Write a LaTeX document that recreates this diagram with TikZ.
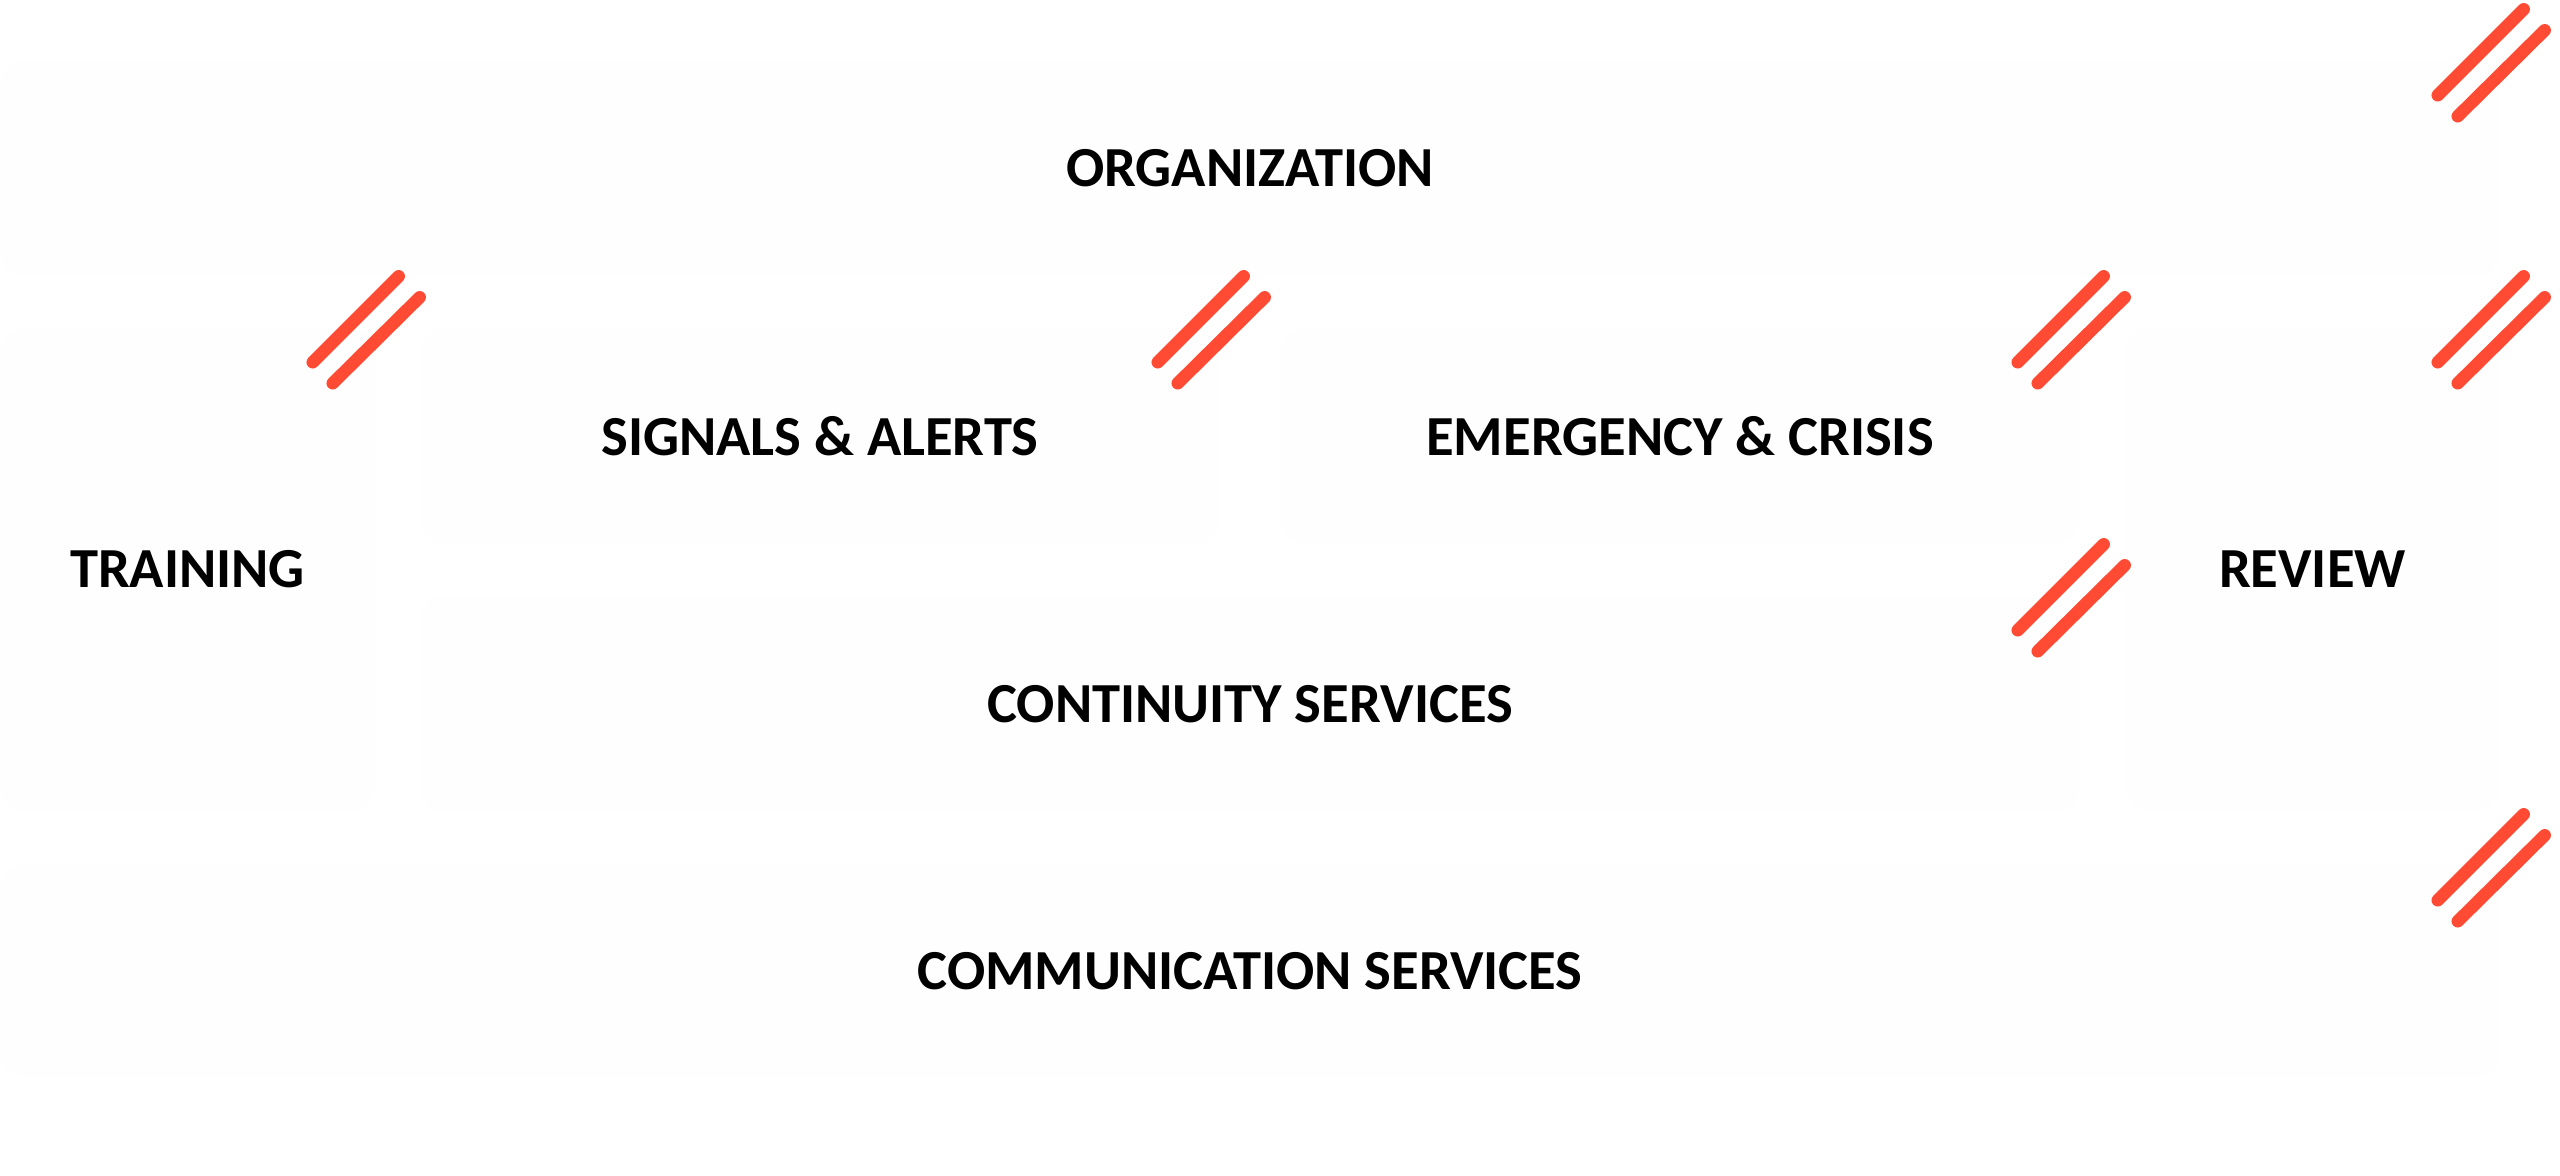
\documentclass[tikz,border=0pt]{standalone}
\usepackage{fontspec}
\setmainfont{Carlito}
\usetikzlibrary{positioning}
\definecolor{slashred}{RGB}{255,75,51}
\definecolor{boxfill}{RGB}{254,254,254}
\begin{document}
\begin{tikzpicture}[%
        node distance=0.5cm,
        block/.style={%
          rectangle,
          rounded corners=0.25cm,
          fill=boxfill,
          draw=none,
          inner sep=0pt,
          font=\bfseries\fontsize{16.1}{20}\selectfont
        },
        slash/.style={%
          draw=slashred,
          line width=0.125cm,
          line cap=round
        }
      ]
      \useasboundingbox (0,0) rectangle (25.6,11.76);
      \node[block, minimum width=25cm, minimum height=2.17cm] (org) at (12.5,10.075) {ORGANIZATION};
      \node[block, minimum width=3.75cm, minimum height=4.84cm] (trn) at (1.875,6.07) {TRAINING};
      \node[block, minimum width=8cm, minimum height=2.18cm] (sig) at (8.2,7.40) {SIGNALS \& ALERTS};
      \node[block, minimum width=8cm, minimum height=2.18cm] (emg) at (16.8,7.40) {EMERGENCY \& CRISIS};
      \node[block, minimum width=3.75cm, minimum height=4.84cm] (rev) at (23.125,6.07) {REVIEW};
      \node[block, minimum width=16.6cm, minimum height=2.18cm] (cnt) at (12.5,4.72) {CONTINUITY SERVICES};
      \node[block, minimum width=25cm, minimum height=2.13cm] (com) at (12.5,2.045) {COMMUNICATION SERVICES};

      % double slashes on the top right corners
      \draw[slash] ([shift={(-0.63,-0.36)}]org.north east) -- ([shift={(0.23,0.50)}]org.north east);
      \draw[slash] ([shift={(-0.43,-0.57)}]org.north east) -- ([shift={(0.44,0.29)}]org.north east);
      \draw[slash] ([shift={(-0.63,-0.36)}]trn.north east) -- ([shift={(0.23,0.50)}]trn.north east);
      \draw[slash] ([shift={(-0.43,-0.57)}]trn.north east) -- ([shift={(0.44,0.29)}]trn.north east);
      \draw[slash] ([shift={(-0.63,-0.36)}]sig.north east) -- ([shift={(0.23,0.50)}]sig.north east);
      \draw[slash] ([shift={(-0.43,-0.57)}]sig.north east) -- ([shift={(0.44,0.29)}]sig.north east);
      \draw[slash] ([shift={(-0.63,-0.36)}]emg.north east) -- ([shift={(0.23,0.50)}]emg.north east);
      \draw[slash] ([shift={(-0.43,-0.57)}]emg.north east) -- ([shift={(0.44,0.29)}]emg.north east);
      \draw[slash] ([shift={(-0.63,-0.36)}]rev.north east) -- ([shift={(0.23,0.50)}]rev.north east);
      \draw[slash] ([shift={(-0.43,-0.57)}]rev.north east) -- ([shift={(0.44,0.29)}]rev.north east);
      \draw[slash] ([shift={(-0.63,-0.36)}]cnt.north east) -- ([shift={(0.23,0.50)}]cnt.north east);
      \draw[slash] ([shift={(-0.43,-0.57)}]cnt.north east) -- ([shift={(0.44,0.29)}]cnt.north east);
      \draw[slash] ([shift={(-0.63,-0.36)}]com.north east) -- ([shift={(0.23,0.50)}]com.north east);
      \draw[slash] ([shift={(-0.43,-0.57)}]com.north east) -- ([shift={(0.44,0.29)}]com.north east);
    \end{tikzpicture}
\end{document}
